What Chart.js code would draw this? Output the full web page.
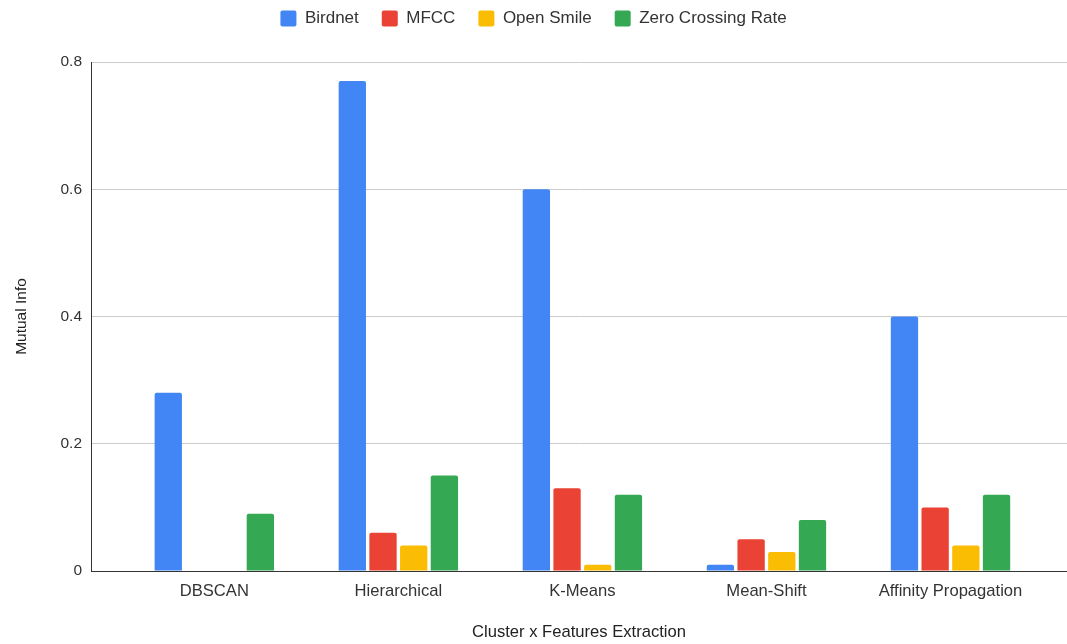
<!DOCTYPE html>
<html>
<head>
<meta charset="utf-8">
<script src="https://cdn.jsdelivr.net/npm/chart.js@4"></script>
<style>
  html, body { margin: 0; padding: 0; background: #fff; }
  #wrap { width: 1067px; height: 644px; position: relative; }
</style>
</head>
<body>
<div id="wrap"><canvas id="chart"></canvas></div>
<script>
const categories = ['DBSCAN', 'Hierarchical', 'K-Means', 'Mean-Shift', 'Affinity Propagation'];
const birdnet = [0.28, 0.77, 0.60, 0.01, 0.40];
const mfcc = [0, 0.06, 0.13, 0.05, 0.10];
const openSmile = [0, 0.04, 0.01, 0.03, 0.04];
const zeroCrossing = [0.09, 0.15, 0.12, 0.08, 0.12];
const yTicks = [0, 0.2, 0.4, 0.6, 0.8];

const FONT = "'Liberation Sans', Arial, sans-serif";

// bars sit on a linear x axis so the plot can run wider than the category band
const points = (values) => values.map((v, i) => ({ x: i, y: v }));

const series = [
  { label: 'Birdnet', values: birdnet, color: '#4285F4' },
  { label: 'MFCC', values: mfcc, color: '#EA4335' },
  { label: 'Open Smile', values: openSmile, color: '#FBBC04' },
  { label: 'Zero Crossing Rate', values: zeroCrossing, color: '#34A853' },
];

// leave a gap between the legend row and the plot
const legendGap = {
  id: 'legendGap',
  beforeLayout(chart) {
    const legend = chart.legend;
    if (!legend || legend._gapPatched) return;
    const fit = legend.fit;
    legend.fit = function () {
      fit.call(this);
      this.height += 25;
    };
    legend._gapPatched = true;
  },
};

new Chart(document.getElementById('chart'), {
  type: 'bar',
  plugins: [legendGap],
  data: {
    datasets: series.map((s) => ({
      label: s.label,
      data: points(s.values),
      backgroundColor: s.color,
      borderRadius: 2,
      categoryPercentage: 0.667,
      barPercentage: 0.89,
    })),
  },
  options: {
    responsive: true,
    maintainAspectRatio: false,
    animation: false,
    layout: { padding: { top: -13, right: 0, bottom: 0, left: 0 } },
    plugins: {
      tooltip: { enabled: false },
      legend: {
        display: true,
        position: 'top',
        labels: {
          boxWidth: 16,
          boxHeight: 16,
          useBorderRadius: true,
          borderRadius: 2,
          padding: 23,
          color: '#333',
          font: { family: FONT, size: 17 },
        },
      },
    },
    scales: {
      x: {
        type: 'linear',
        offset: false,
        min: -0.67,
        max: 4.633,
        grid: { display: false, drawTicks: false },
        border: { display: true, color: '#333', width: 1 },
        ticks: {
          stepSize: 1,
          includeBounds: false,
          autoSkip: false,
          maxRotation: 0,
          padding: 10,
          color: '#333',
          font: { family: FONT, size: 16.6 },
          callback: (value) => (Number.isInteger(value) ? categories[value] : ''),
        },
        title: {
          display: true,
          text: 'Cluster x Features Extraction',
          color: '#222',
          font: { family: FONT, size: 16.6 },
          padding: { top: 0, bottom: 2 },
        },
        afterFit: (scale) => { scale.height = 73; },
      },
      y: {
        min: 0,
        max: 0.8,
        afterBuildTicks: (scale) => { scale.ticks = yTicks.map((v) => ({ value: v })); },
        grid: { color: '#ccc', drawTicks: false },
        border: { display: true, color: '#333', width: 1 },
        ticks: {
          padding: 9,
          color: '#333',
          font: { family: FONT, size: 15.5 },
          callback: (value) => String(value),
        },
        title: {
          display: true,
          text: 'Mutual Info',
          color: '#222',
          font: { family: FONT, size: 15.5 },
          padding: { top: 12, bottom: 10 },
        },
        afterFit: (scale) => { scale.width = 91; },
      },
    },
  },
});
</script>
</body>
</html>
